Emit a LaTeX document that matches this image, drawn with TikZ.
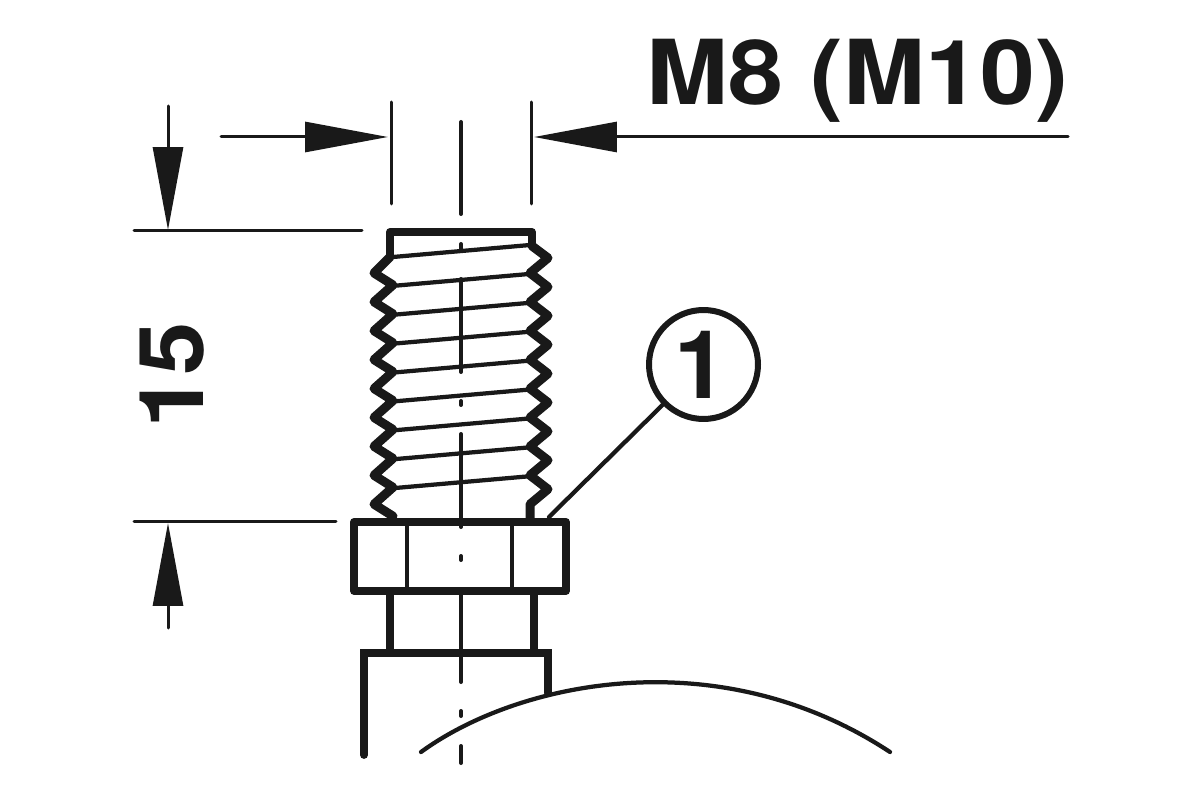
\documentclass[tikz,border=0pt]{standalone}
\usepackage{fontspec}
\setmainfont{TeX Gyre Heros}
\usetikzlibrary{arrows.meta}

\begin{document}
\begin{tikzpicture}[x=0.02cm, y=-0.02cm, line cap=round]
\tikzstyle{heavy}=[line width=0.155cm, line join=round, color=black!90]
\tikzstyle{threadline}=[line width=0.18cm, line join=round, color=black!90]
\tikzstyle{thin}=[line width=0.085cm, color=black!90]
\tikzstyle{centre}=[line width=0.08cm, color=black!90]
\tikzstyle{dimline}=[line width=0.06cm, color=black!90]
\tikzstyle{dimarrow}=[dimline, -{Triangle[length=1.66cm, width=0.6cm]}]
\tikzstyle{bigtext}=[font=\bfseries\fontsize{51pt}{51pt}\selectfont, inner sep=0pt, color=black!90]
    \useasboundingbox (0,0) rectangle (1200,800);

    % dimension lines
    \coordinate (leftfrom) at (221,137);
    \coordinate (lefttip) at (388,137);
    \coordinate (rightfrom) at (1068,137);
    \coordinate (righttip) at (534,137);
    \coordinate (downfrom) at (168,106);
    \coordinate (downtip) at (168,230);
    \coordinate (upfrom) at (168,628);
    \coordinate (uptip) at (168,523);
    \draw[dimarrow] (leftfrom) -- (lefttip);
    \draw[dimarrow] (rightfrom) -- (righttip);
    \draw[dimarrow] (downfrom) -- (downtip);
    \draw[dimarrow] (upfrom) -- (uptip);
    \draw[dimline] (391,102) -- (391,204);
    \draw[dimline] (531,102) -- (531,204);
    \draw[dimline] (134,231) -- (362,231);
    \draw[dimline] (134,521) -- (336,521);

    % centre line
    \foreach \ya/\yb in {122/214, 244/251, 279/372, 401/405, 434/527, 556/560, 595/682, 711/716, 746/763}
        \draw[centre] (461,\ya) -- (461,\yb);

    % thread
    \draw[heavy] (390,257) -- (390,232) -- (532,232) -- (532,246);
    \draw[threadline] (532,246)
        \foreach \k in {0,...,8} { -- (548,{258+28.9*\k}) -- (530,{273+28.9*\k}) }
        -- (530,520);
    \draw[threadline] (390,257)
        \foreach \k in {0,...,8} { -- (374,{273+28.9*\k}) -- (393,{285+28.9*\k}) };
    \foreach \k in {0,...,8}
        \draw[thin] (393,{257+28.9*\k}) -- (530,{245+28.9*\k});

    % nut, neck and collar
    \draw[heavy] (354,522) rectangle (566,591);
    \draw[thin] (407,522) -- (407,591);
    \draw[thin] (512,522) -- (512,591);
    \draw[heavy] (390,591) -- (390,653);
    \draw[heavy] (534,591) -- (534,653);
    \draw[heavy, line join=miter] (364,755) -- (364,653) -- (548,653) -- (548,693);
    \draw[thin] (421,752) .. controls (520,680) and (720,640) .. (890,752);

    % labels
    \node (thread) [bigtext, anchor=base west] at (646,105) {\scalebox{1.1}[1]{M8 (M10)}};
    \node (length) [bigtext, anchor=base, rotate=90] at (203,375) {\scalebox{1.07}[1]{15}};
    \node (circ1) [circle, draw=black!90, line width=0.12cm, minimum size=2.18cm, inner sep=0pt, font=\bfseries\fontsize{54pt}{54pt}\selectfont, text=black!90] at (703.5,364.5) {\kern-3pt 1};
    \coordinate (leader) at (549,517);
    \draw[thin] (circ1) -- (leader);
\end{tikzpicture}
\end{document}
